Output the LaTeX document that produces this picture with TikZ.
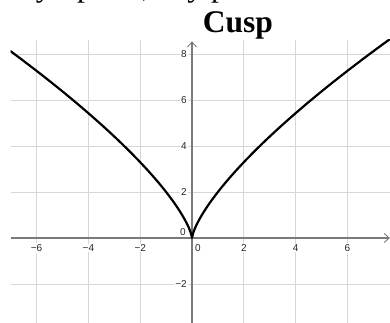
\documentclass[tikz,border=0pt]{standalone}
\usepackage{fontspec}
\setmainfont{Liberation Serif}
\newfontfamily\labfont{Liberation Sans}
\usetikzlibrary{arrows.meta}
\definecolor{gridgray}{HTML}{D6D6D6}
\definecolor{axisgray}{HTML}{7A7A7A}
\definecolor{labgray}{HTML}{262626}
\tikzset{
  gridline/.style={draw=gridgray, line width=0.8pt},
  axisline/.style={draw=axisgray, line width=1.1pt, -{Straight Barb[length=5pt,width=9pt,line width=0.9pt]}},
  ticklab/.style={font=\labfont\fontsize{10}{12}\selectfont, text=labgray, fill=white, inner sep=1pt},
  curveline/.style={draw=black, line width=2.2pt, line join=round},
  bigtext/.style={font=\fontsize{31.5}{36}\selectfont, inner sep=0pt, anchor=base west},
}
\begin{document}
\begin{tikzpicture}[x=1pt,y=1pt]
\useasboundingbox (0,0) rectangle (390,323);
\clip (0,0) rectangle (390,323);
% partially visible line of text above
\node[bigtext] (top1) at (6,326) {any};
\node[bigtext] (top2) at (77,326) {point, any point};
% title
\node[font=\bfseries\fontsize{31.5}{36}\selectfont, inner sep=0pt, anchor=base] (title) at (238,290) {Cusp};
\begin{scope}[shift={(192pt,85pt)}, x=25.9pt, y=23pt]
  \clip (-7,-3.7) rectangle (7.65,8.62);
  % grid
  \foreach \gx in {-6,-4,-2,2,4,6} \draw[gridline] (\gx,-3.7) -- (\gx,8.62);
  \foreach \gy in {-2,2,4,6,8} \draw[gridline] (-7,\gy) -- (7.65,\gy);
  % axes
  \coordinate (xs) at (-7,0);
  \coordinate (xe) at (7.64,0);
  \coordinate (ys) at (0,-3.7);
  \coordinate (ye) at (0,8.55);
  \draw[axisline] (xs) -- (xe);
  \draw[axisline] (ys) -- (ye);
  % x tick labels
  \foreach \gx/\nm in {-6/xm6,-4/xm4,-2/xm2,2/xp2,4/xp4,6/xp6} {
    \pgfmathtruncatemacro{\ax}{abs(\gx)}
    \ifnum\gx<0
      \node[ticklab] (\nm) at ([yshift=-10pt]\gx,0) {−\ax};
    \else
      \node[ticklab] (\nm) at ([yshift=-10pt]\gx,0) {\ax};
    \fi
  }
  % y tick labels
  \foreach \gy/\nm in {-2/ym2,2/yp2,4/yp4,6/yp6,8/yp8} {
    \pgfmathtruncatemacro{\ay}{abs(\gy)}
    \ifnum\gy<0
      \node[ticklab, anchor=east] (\nm) at ([xshift=-4pt]0,\gy) {−\ay};
    \else
      \node[ticklab, anchor=east] (\nm) at ([xshift=-4pt]0,\gy) {\ay};
    \fi
  }
  \node[ticklab, fill=none] (y0) at ([xshift=-9pt,yshift=6pt]0,0) {0};
  \node[ticklab, fill=none] (x0) at ([xshift=6pt,yshift=-10pt]0,0) {0};
  % cusp curve y = 2|x|^0.72
  \draw[curveline]
    plot[domain=7.05:0.002, samples=160, variable=\t] ({-\t},{2*(\t)^0.72})
    -- (0,0) --
    plot[domain=0.002:7.7, samples=160, variable=\t] ({\t},{2*(\t)^0.72});
\end{scope}
\end{tikzpicture}
\end{document}
